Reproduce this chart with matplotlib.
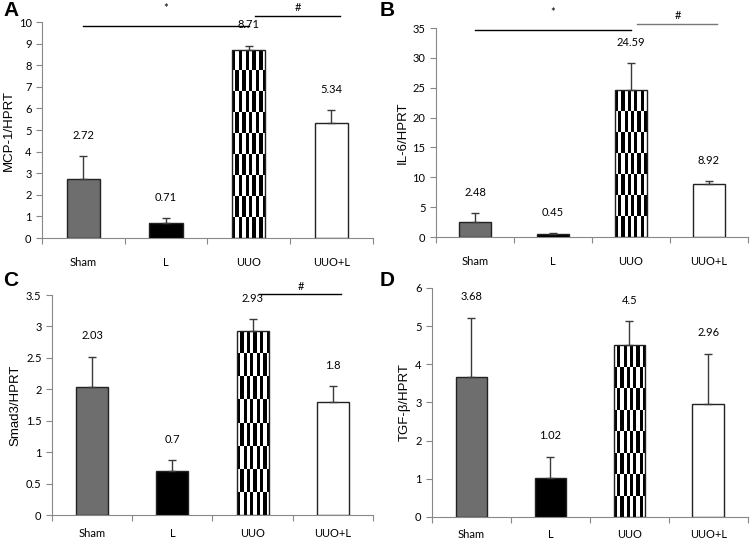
import numpy as np
import matplotlib
matplotlib.use("Agg")
import matplotlib.pyplot as plt

plt.rcParams['font.family'] = ['Lato', 'DejaVu Sans']

groups = ["Sham", "L", "UUO", "UUO+L"]

mcp1 = [2.72, 0.71, 8.71, 5.34]
mcp1_err = [1.06, 0.21, 0.19, 0.58]

il6 = [2.48, 0.45, 24.59, 8.92]
il6_err = [1.52, 0.25, 4.5, 0.4]

smad3 = [2.03, 0.7, 2.93, 1.8]
smad3_err = [0.49, 0.17, 0.19, 0.25]

tgfb = [3.68, 1.02, 4.5, 2.96]
tgfb_err = [1.54, 0.56, 0.63, 1.32]

bar_colors = ["#6e6e6e", "#000000", "#ffffff", "#ffffff"]


def striped(ax, bar, ncols=10, row_px=22):
    # vertical-stripe checkerboard fill like the Excel pattern
    x0, y0 = bar.get_x(), bar.get_y()
    w, h = bar.get_width(), bar.get_height()
    p0 = ax.transData.transform((x0, y0))
    p1 = ax.transData.transform((x0 + w, y0 + h))
    nrows = max(1, int(round(abs(p1[1] - p0[1]) / row_px)))
    ii, jj = np.indices((nrows, ncols))
    img = ((ii + jj) % 2).astype(float)
    im = ax.imshow(img, extent=(x0, x0 + w, y0, y0 + h), origin="lower",
                   cmap="gray", interpolation="nearest", aspect="auto",
                   zorder=2, vmin=0, vmax=1)
    im.set_clip_path(bar)


def panel(rect, vals, errs, ylabel, ymax, ystep, star=None, hash_=None,
          hash_color="black", xpad=14):
    ax = fig.add_axes(rect)
    x = np.arange(len(groups))
    bars = ax.bar(x, vals, width=0.4, color=bar_colors, edgecolor="#222222",
                  linewidth=1.0, zorder=3)
    ax.set_xlim(-0.5, len(groups) - 0.5)
    ax.set_ylim(0, ymax)
    ax.set_yticks(np.arange(0, ymax + ystep / 2, ystep))
    ax.yaxis.set_major_formatter(matplotlib.ticker.FuncFormatter(lambda v, p: f"{v:g}"))
    ax.figure.canvas.draw()
    striped(ax, bars[2])
    bars[2].set_facecolor("none")
    bars[2].set_zorder(4)
    ax.errorbar(x, vals, yerr=[np.zeros(len(vals)), errs], fmt="none",
                ecolor="#3a3a3a", elinewidth=1.0, capsize=3, capthick=1.0, zorder=5)
    for xi, v, e in zip(x, vals, errs):
        ax.annotate(f"{v:g}", (xi, v + e), xytext=(0, 11), textcoords="offset points",
                    ha="center", va="bottom", fontsize=8)
    ax.set_xticks(np.arange(-0.5, len(groups)), minor=False)
    ax.set_xticklabels([])
    ax.set_xticks(x, minor=True)
    ax.set_xticklabels(groups, minor=True, fontsize=8)
    ax.tick_params(axis="x", which="minor", length=0, pad=xpad)
    ax.tick_params(axis="x", which="major", length=4, color="#888888")
    ax.tick_params(axis="y", labelsize=8, length=4, color="#888888")
    for s in ["top", "right"]:
        ax.spines[s].set_visible(False)
    for s in ["left", "bottom"]:
        ax.spines[s].set_color("#888888")
    ax.set_ylabel(ylabel, fontsize=9.5, family=["Liberation Sans", "DejaVu Sans"],
                  labelpad=3)
    if star is not None:
        ax.plot([0, 2], [star, star], color="black", lw=1.0, clip_on=False)
        ax.annotate("*", (1, star), xytext=(0, 9), textcoords="offset points",
                    ha="center", va="bottom", fontsize=8, annotation_clip=False)
    if hash_ is not None:
        ax.plot([2.08, 3.1], [hash_, hash_], color=hash_color, lw=1.0, clip_on=False)
        ax.annotate("#", (2.6, hash_), xytext=(0, 2), textcoords="offset points",
                    ha="center", va="bottom", fontsize=8, annotation_clip=False)
    return ax


fig = plt.figure(figsize=(7.5, 5.45), dpi=100)

panel([0.056, 0.5633, 0.441, 0.3963], mcp1, mcp1_err, "MCP-1/HPRT", 10, 1,
      star=9.8, hash_=10.28)
panel([0.5813, 0.5651, 0.416, 0.3835], il6, il6_err, "IL-6/HPRT", 35, 5,
      star=34.6, hash_=35.7, hash_color="#777777")
panel([0.0693, 0.055, 0.428, 0.4037], smad3, smad3_err, "Smad3/HPRT", 3.5, 0.5,
      hash_=3.51, xpad=9)
panel([0.576, 0.0514, 0.421, 0.4202], tgfb, tgfb_err, "TGF-β/HPRT", 6, 1, xpad=9)

for lx, ly, letter in [(0.004, 0.999, "A"), (0.506, 0.999, "B"),
                       (0.004, 0.502, "C"), (0.506, 0.502, "D")]:
    fig.text(lx, ly, letter, fontsize=15, fontweight="bold",
             family=["Liberation Sans", "DejaVu Sans"], ha="left", va="top")

fig.savefig("out.png", dpi=100)
